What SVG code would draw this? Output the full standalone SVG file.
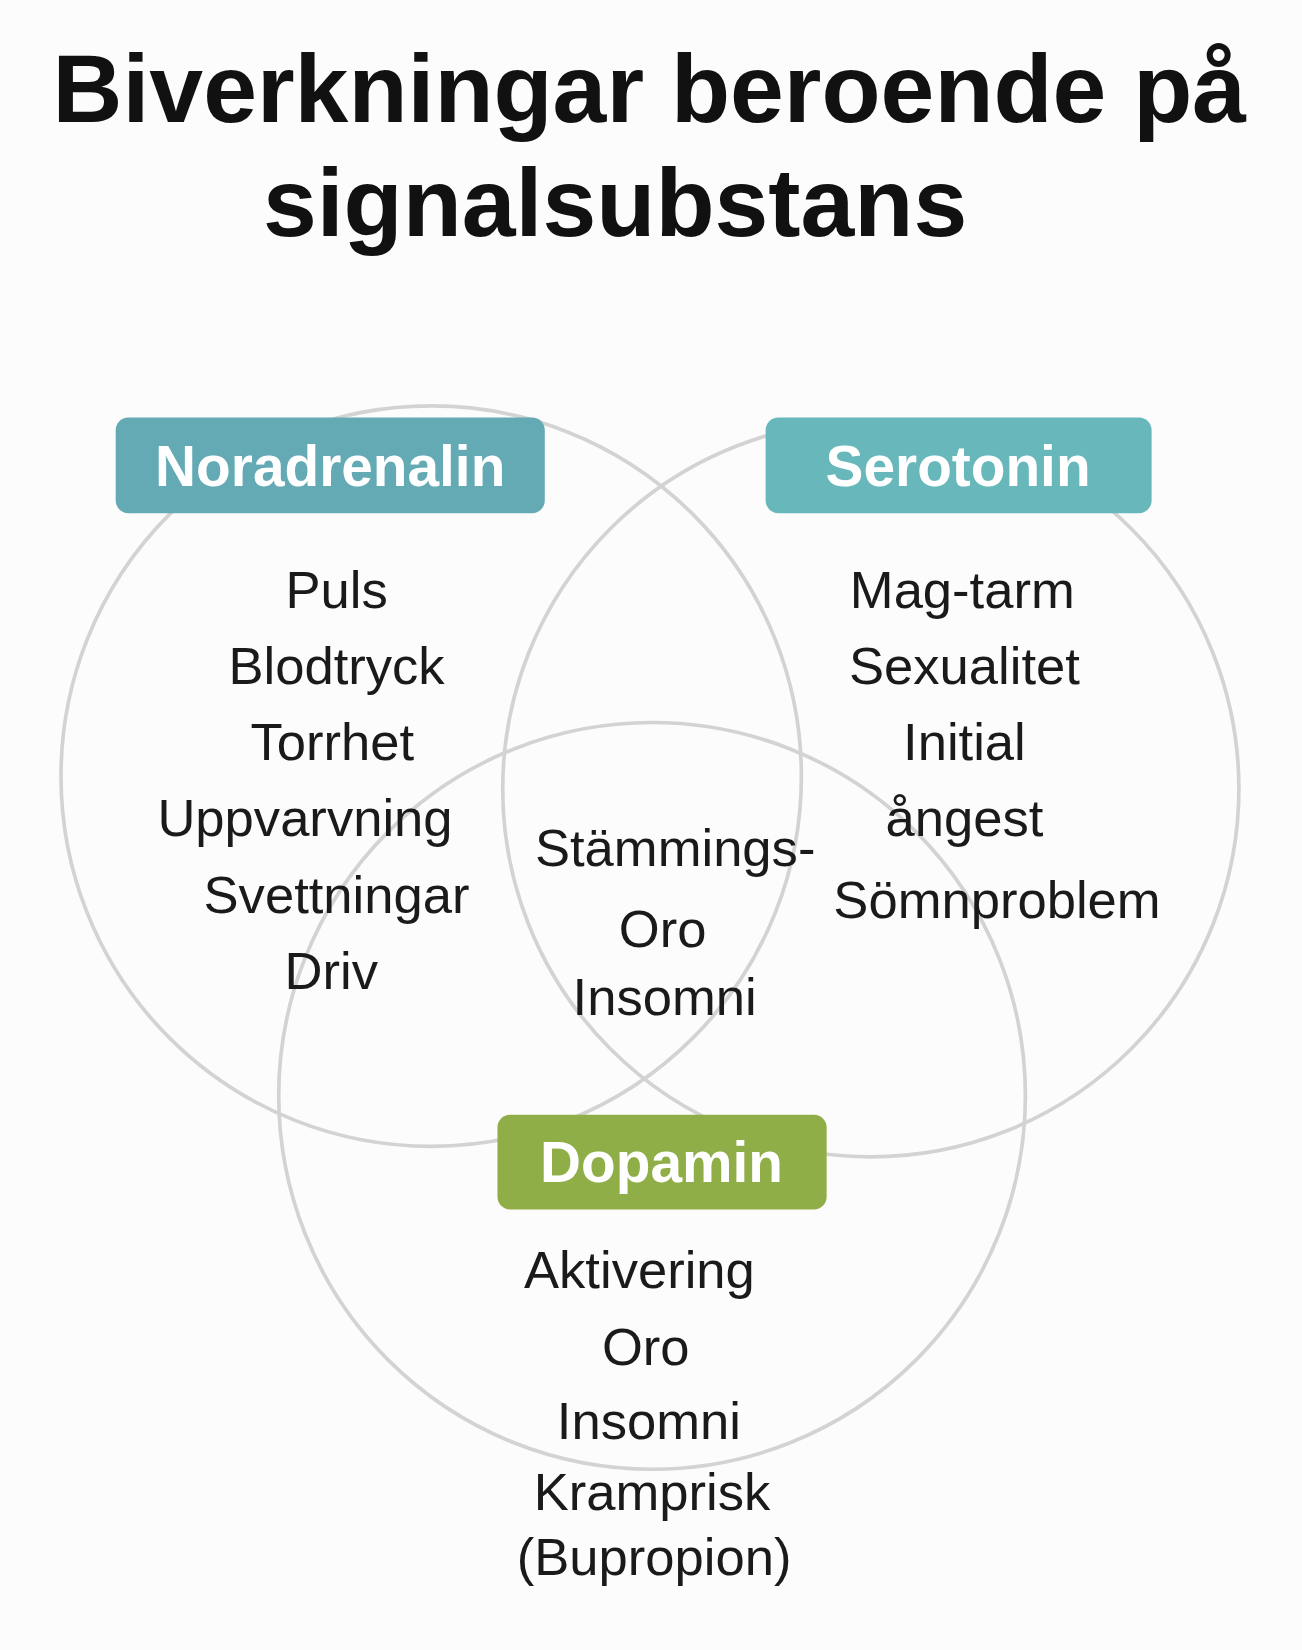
<svg xmlns="http://www.w3.org/2000/svg" width="1302" height="1650" viewBox="0 0 1302 1650">
<style>
.c{fill:none;stroke:#d3d3d3;stroke-width:3.5}
.t{font-family:"Liberation Sans",Arial,sans-serif;font-size:50px;fill:#1a1a1a;text-anchor:middle}
.h{font-family:"Liberation Sans",Arial,sans-serif;font-size:92px;font-weight:bold;fill:#111}
.l{font-family:"Liberation Sans",Arial,sans-serif;font-size:54px;font-weight:bold;fill:#fff;text-anchor:middle}
</style>
<rect width="1302" height="1650" fill="#fcfcfc"/>
<g transform="scale(1.0517)">
<text class="h" x="50" y="116">Biverkningar beroende på</text>
<text class="h" x="250" y="224">signalsubstans</text>
<g id="connectors">
<circle class="c" cx="410" cy="738" r="352"/>
<circle class="c" cx="828" cy="750" r="350"/>
<circle class="c" cx="620" cy="1042" r="355"/>
</g>
<g id="noradrenalin">
<rect x="110" y="397" width="408" height="91" rx="12" fill="#64aab5"/>
<text class="l" x="314" y="462">Noradrenalin</text>
<text class="t" x="320" y="578">Puls</text>
<text class="t" x="320" y="650">Blodtryck</text>
<text class="t" x="316" y="723">Torrhet</text>
<text class="t" x="290" y="795">Uppvarvning</text>
<text class="t" x="320" y="868">Svettningar</text>
<text class="t" x="315" y="940">Driv</text>
</g>
<g id="serotonin">
<rect x="728" y="397" width="367" height="91" rx="12" fill="#68b8bb"/>
<text class="l" x="911" y="462">Serotonin</text>
<text class="t" x="915" y="578">Mag-tarm</text>
<text class="t" x="917" y="650">Sexualitet</text>
<text class="t" x="917" y="723">Initial</text>
<text class="t" x="917" y="795">ångest</text>
<text class="t" x="948" y="873">Sömnproblem</text>
</g>
<g id="center">
<text class="t" x="642" y="823">Stämmings-</text>
<text class="t" x="630" y="900">Oro</text>
<text class="t" x="632" y="965">Insomni</text>
</g>
<g id="dopamin">
<rect x="473" y="1060" width="313" height="90" rx="12" fill="#8fae48"/>
<text class="l" x="629" y="1124">Dopamin</text>
<text class="t" x="608" y="1225">Aktivering</text>
<text class="t" x="614" y="1298">Oro</text>
<text class="t" x="617" y="1368">Insomni</text>
<text class="t" x="620" y="1436">Kramprisk</text>
<text class="t" x="622" y="1498">(Bupropion)</text>
</g>
</g>
</svg>
